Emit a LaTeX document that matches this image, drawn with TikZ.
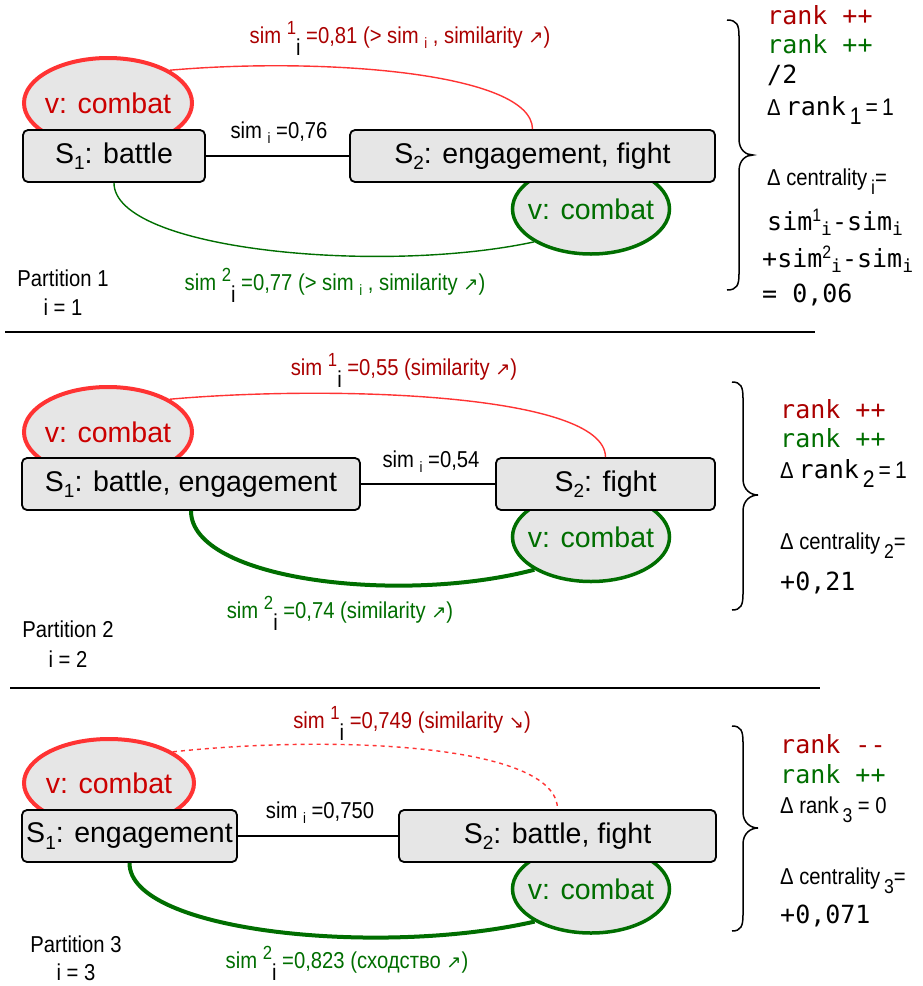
\documentclass[tikz,border=0pt]{standalone}
\usepackage{fontspec}
\setmainfont{Liberation Sans}
\newfontfamily\narf[FakeStretch=0.88]{Liberation Sans}
\newfontfamily\monof{DejaVu Sans Mono}
\newfontfamily\dvf{DejaVu Sans}
\usetikzlibrary{shapes.geometric}
\definecolor{boxgray}{HTML}{E6E6E6}
\definecolor{redline}{HTML}{FF3333}
\definecolor{redtext}{HTML}{AA0000}
\definecolor{ellred}{HTML}{CC0000}
\definecolor{greenc}{HTML}{006E00}
\newcommand\bigfs{\fontsize{28.5}{33}\selectfont}
\newcommand\labfs{\narf\fontsize{23}{27}\selectfont}
\newcommand\monofs{\monof\fontsize{25}{29}\selectfont}
\newcommand\Ssub[1]{S\raisebox{-0.22em}{\fontsize{19}{19}\selectfont #1}}
\newcommand\subi{\raisebox{-0.22em}{\fontsize{15}{15}\selectfont i}}
\newcommand\supsub[1]{\raisebox{0.36em}{\fontsize{19}{19}\selectfont #1}{\color{black}\raisebox{-0.56em}{i}}}
\newcommand\arr[1]{{\dvf\fontsize{18}{18}\selectfont #1}}
\newcommand\drank[2]{{\labfs Δ}\hspace{5pt}rank\hspace{4pt}{\labfs\fontsize{24}{27}\selectfont\raisebox{-9pt}{#1}\,=\,#2}}
\newcommand\dcent[1]{Δ centrality\,\raisebox{-9pt}{\fontsize{20}{20}\selectfont #1}=}
\newcommand\msup[1]{{\narf\fontsize{18}{18}\selectfont\raisebox{9pt}{#1}}}
\newcommand\msub{{\fontsize{18}{18}\selectfont\raisebox{-5pt}{i}}}
\newcommand\rbr[6]{%
  \draw[bracestyle] (#1,#4) .. controls (#2-2,#4) and (#2,#4+5) .. (#2,#4+16)
    -- (#2,#5-16) .. controls (#2,#5-5) and (#3-7,#5) .. (#3,#5)
    .. controls (#3-7,#5) and (#2,#5+5) .. (#2,#5+16)
    -- (#2,#6-16) .. controls (#2,#6-5) and (#2-2,#6) .. (#1,#6);}
\tikzset{
  sbox/.style={draw=black, line width=1.8pt, fill=boxgray, rounded corners=5pt,
    inner sep=0pt, minimum height=52pt, font=\bigfs},
  vred/.style={ellipse, draw=redline, line width=4pt, fill=boxgray, inner sep=-12pt,
    text=ellred, font=\bigfs},
  vgreen/.style={ellipse, draw=greenc, line width=3.5pt, fill=boxgray, inner sep=-12pt,
    text=greenc, font=\bigfs},
  lab/.style={inner sep=0pt, anchor=base, font=\labfs},
  rlab/.style={lab, text=redtext},
  glab/.style={lab, text=greenc},
  mtxt/.style={inner sep=0pt, anchor=base west, font=\monofs},
  stxt/.style={inner sep=0pt, anchor=base west, font=\labfs},
  simedge/.style={line width=1.5pt},
  redcurve/.style={draw=redline, line width=1.4pt},
  greenthin/.style={draw=greenc, line width=1.4pt},
  greenthick/.style={draw=greenc, line width=4pt},
  sepline/.style={line width=1.8pt},
  bracestyle/.style={line width=1.5pt},
}
\begin{document}
\begin{tikzpicture}[x=1pt,y=-1pt]
\useasboundingbox (0,0) rectangle (923,986);
% ---------------- Panel 1
\node[vred, minimum width=168pt, minimum height=90pt] (r1) at (108,103) {v: combat};
\node[vgreen, minimum width=157pt, minimum height=90pt] (g1) at (591,209) {v: combat};
\node[sbox, minimum width=182pt] (a1) at (114,156) {\Ssub{1}: battle};
\node[sbox, minimum width=365pt] (b1) at (532.5,156) {\Ssub{2}: engagement, fight};
\draw[simedge] (a1.east) -- (b1.west);
\draw[redcurve] (r1.28) .. controls (320,57) and (532,72) .. (b1.north);
\draw[greenthin] (a1.south) .. controls (114,250) and (380,275) .. (g1.210);
\node[lab] (e1) at (279,138) {sim \subi\ =0,76};
\node[rlab] (t1) at (400,43) {sim \supsub{1} =0,81 (> sim \subi\ , similarity \arr{↗})};
\node[glab] (u1) at (335,290) {sim \supsub{2} =0,77 (> sim \subi\ , similarity \arr{↗})};
\node[lab] (p1) at (63,286) {Partition 1};
\node[lab] (q1) at (63,315) {i = 1};
\rbr{727}{739}{753}{20}{155}{290}
\node[mtxt, text=redtext] (k1a) at (767,24) {rank ++};
\node[mtxt, text=greenc] (k1b) at (767,53) {rank ++};
\node[mtxt] (k1c) at (767,83) {/2};
\node[mtxt] (k1d) at (767,115) {\drank{1}{1}};
\node[stxt] (k1e) at (767,185) {\dcent{i}};
\node[mtxt] (k1f) at (767,230) {sim\msup{1}\msub-sim\msub};
\node[mtxt] (k1g) at (762,267) {+sim\msup{2}\msub-sim\msub};
\node[mtxt] (k1h) at (762,302) {= 0,06};
\draw[sepline] (5,332) -- (815,332);
% ---------------- Panel 2
\node[vred, minimum width=168pt, minimum height=90pt] (r2) at (108,432) {v: combat};
\node[vgreen, minimum width=157pt, minimum height=89pt] (g2) at (591,537) {v: combat};
\node[sbox, minimum width=338pt] (a2) at (191,484) {\Ssub{1}: battle, engagement};
\node[sbox, minimum width=219pt] (b2) at (605.5,484) {\Ssub{2}: fight};
\draw[simedge] (a2.east) -- (b2.west);
\draw[redcurve] (r2.28) .. controls (330,385) and (605,393) .. (b2.north);
\draw[greenthick] (a2.south) .. controls (191,580) and (400,605) .. (g2.210);
\node[lab] (e2) at (431,467) {sim \subi\ =0,54};
\node[rlab] (t2) at (404,375) {sim \supsub{1} =0,55 (similarity \arr{↗})};
\node[glab] (u2) at (340,618) {sim \supsub{2} =0,74 (similarity \arr{↗})};
\node[lab] (p2) at (68,637) {Partition 2};
\node[lab] (q2) at (68,667) {i = 2};
\rbr{732}{743}{758}{382}{495}{610}
\node[mtxt, text=redtext] (k2a) at (780,418) {rank ++};
\node[mtxt, text=greenc] (k2b) at (780,447) {rank ++};
\node[mtxt] (k2c) at (780,478) {\drank{2}{1}};
\node[stxt] (k2d) at (780,549) {\dcent{2}};
\node[mtxt] (k2e) at (780,590) {+0,21};
\draw[sepline] (10,688) -- (820,688);
% ---------------- Panel 3
\node[vred, minimum width=170pt, minimum height=88pt] (r3) at (109,783) {v: combat};
\node[vgreen, minimum width=157pt, minimum height=88pt] (g3) at (591,889) {v: combat};
\node[sbox, minimum width=215pt] (a3) at (129.5,836) {\Ssub{1}: engagement};
\node[sbox, minimum width=317pt] (b3) at (557.5,836) {\Ssub{2}: battle, fight};
\draw[simedge] (a3.east) -- (b3.west);
\draw[redcurve, dash pattern=on 4pt off 4pt] (r3.26) .. controls (330,735) and (557,743) .. (b3.north);
\draw[greenthick] (a3.south) .. controls (129,932) and (380,957) .. (g3.210);
\node[lab] (e3) at (320,818) {sim \subi\ =0,750};
\node[rlab] (t3) at (412,728) {sim \supsub{1} =0,749 (similarity \arr{↘})};
\node[glab] (u3) at (347,968) {sim \supsub{2} =0,823 (сходство \arr{↗})};
\node[lab] (p3) at (76,952) {Partition 3};
\node[lab] (q3) at (76,980) {i = 3};
\rbr{732}{743}{758}{726}{828}{931}
\node[mtxt, text=redtext] (k3a) at (780,753) {rank --};
\node[mtxt, text=greenc] (k3b) at (780,783) {rank ++};
\node[stxt] (k3c) at (780,813) {Δ rank\,\raisebox{-9pt}{\fontsize{20}{20}\selectfont 3} = 0};
\node[stxt] (k3d) at (780,884) {\dcent{3}};
\node[mtxt] (k3e) at (780,923) {+0,071};
\end{tikzpicture}
\end{document}
